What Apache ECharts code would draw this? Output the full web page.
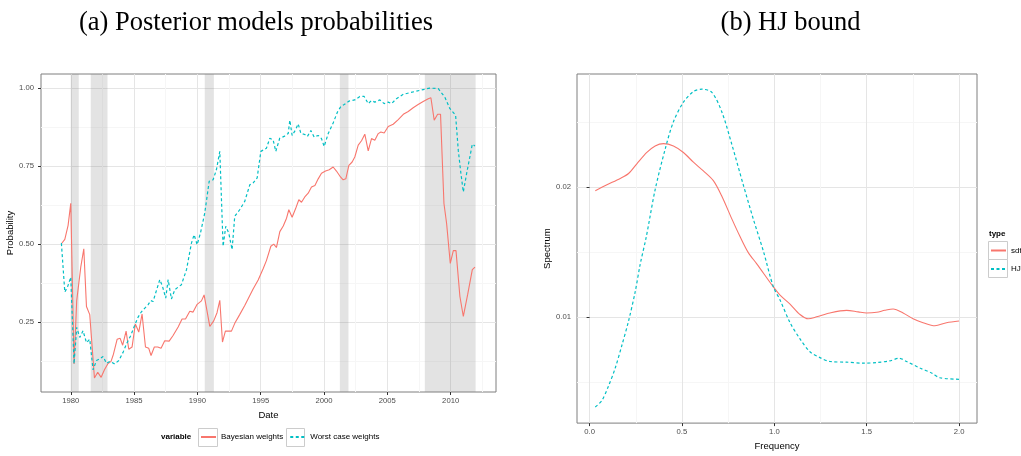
<!DOCTYPE html>
<html>
<head>
<meta charset="utf-8">
<script src="https://cdn.jsdelivr.net/npm/echarts@6/dist/echarts.min.js"></script>
<style>
html,body{margin:0;padding:0;background:#fff;}
#c{width:1021px;height:456px;}
</style>
</head>
<body>
<div id="c"></div>
<script>
// ---- Panel (a): posterior model probabilities ----
const bayesYears = [1979.26,1979.53,1979.79,1980.0,1980.26,1980.47,1980.79,1981.03,1981.24,1981.5,1981.87,1982.13,1982.4,1982.66,1982.92,1983.18,1983.37,1983.66,1983.9,1984.1,1984.37,1984.58,1984.84,1985.1,1985.37,1985.63,1985.9,1986.16,1986.34,1986.6,1986.87,1987.13,1987.42,1987.77,1988.08,1988.48,1988.79,1989.06,1989.4,1989.66,1989.98,1990.32,1990.53,1990.98,1991.29,1991.55,1991.77,1991.98,1992.21,1992.69,1992.95,1993.34,1993.74,1994.0,1994.4,1994.8,1995.19,1995.45,1995.8,1996.03,1996.24,1996.51,1996.78,1997.04,1997.22,1997.48,1997.75,1998.01,1998.22,1998.48,1998.75,1999.01,1999.28,1999.54,1999.8,2000.12,2000.41,2000.72,2000.98,2001.3,2001.51,2001.72,2001.96,2002.22,2002.43,2002.7,2002.96,2003.22,2003.49,2003.75,2004.01,2004.28,2004.49,2004.75,2005.07,2005.46,2005.86,2006.26,2006.65,2007.04,2007.43,2007.83,2008.23,2008.44,2008.7,2008.97,2009.2,2009.47,2009.68,2009.97,2010.21,2010.42,2010.73,2011.0,2011.34,2011.71,2011.92];
const bayesWeights = [0.501,0.515,0.56,0.631,0.116,0.319,0.426,0.485,0.30,0.274,0.071,0.089,0.073,0.097,0.116,0.124,0.147,0.195,0.198,0.176,0.221,0.163,0.17,0.244,0.218,0.276,0.17,0.166,0.143,0.17,0.17,0.166,0.19,0.189,0.207,0.234,0.26,0.26,0.285,0.282,0.307,0.318,0.337,0.236,0.254,0.28,0.32,0.186,0.221,0.221,0.246,0.274,0.303,0.324,0.356,0.385,0.421,0.447,0.493,0.50,0.489,0.54,0.558,0.583,0.61,0.586,0.613,0.642,0.634,0.651,0.663,0.683,0.688,0.709,0.727,0.734,0.738,0.747,0.734,0.715,0.706,0.709,0.752,0.763,0.779,0.817,0.831,0.852,0.799,0.838,0.833,0.854,0.859,0.856,0.877,0.884,0.899,0.916,0.925,0.937,0.947,0.957,0.966,0.969,0.897,0.916,0.916,0.63,0.566,0.438,0.479,0.479,0.332,0.268,0.338,0.418,0.426];

const worstYears = [1979.26,1979.53,1979.74,1980.0,1980.26,1980.47,1980.71,1980.97,1981.24,1981.5,1981.76,1982.03,1982.29,1982.55,1982.82,1983.08,1983.47,1983.8,1984.13,1984.4,1984.74,1985.05,1985.32,1985.58,1985.85,1986.11,1986.32,1986.5,1986.71,1987.03,1987.24,1987.5,1987.69,1987.95,1988.22,1988.74,1989.14,1989.53,1989.74,1989.98,1990.24,1990.58,1990.93,1991.24,1991.5,1991.77,1992.03,1992.24,1992.48,1992.74,1992.95,1993.34,1993.74,1994.14,1994.4,1994.72,1995.01,1995.45,1995.72,1995.98,1996.19,1996.5,1996.85,1997.17,1997.3,1997.48,1997.75,1997.96,1998.17,1998.48,1998.69,1998.96,1999.22,1999.54,1999.8,2000.01,2000.33,2000.72,2001.06,2001.33,2001.59,2001.96,2002.43,2002.83,2003.17,2003.49,2003.75,2004.01,2004.41,2004.75,2005.07,2005.33,2005.72,2006.26,2006.78,2007.3,2007.83,2008.36,2009.02,2009.54,2009.94,2010.39,2010.6,2010.81,2011.0,2011.26,2011.71,2011.92];
const worstWeights = [0.503,0.346,0.362,0.394,0.116,0.233,0.201,0.222,0.184,0.195,0.097,0.127,0.132,0.14,0.118,0.124,0.116,0.127,0.153,0.18,0.207,0.24,0.266,0.283,0.295,0.306,0.319,0.316,0.344,0.386,0.365,0.327,0.386,0.324,0.354,0.37,0.418,0.503,0.53,0.498,0.535,0.599,0.701,0.706,0.738,0.797,0.493,0.557,0.535,0.482,0.589,0.61,0.637,0.69,0.696,0.712,0.797,0.807,0.839,0.834,0.797,0.839,0.845,0.854,0.897,0.848,0.866,0.885,0.855,0.851,0.845,0.864,0.843,0.848,0.838,0.813,0.854,0.888,0.923,0.941,0.947,0.958,0.962,0.973,0.973,0.95,0.96,0.955,0.962,0.95,0.955,0.95,0.966,0.98,0.985,0.99,0.995,1.0,0.998,0.971,0.934,0.913,0.801,0.726,0.667,0.726,0.82,0.814];

const recessionStart = [1980.0, 1981.58, 1990.58, 2001.25, 2007.96];
const recessionEnd   = [1980.63, 1982.9, 1991.3, 2001.93, 2011.97];

const yearTicks = [1980, 1985, 1990, 1995, 2000, 2005, 2010];
const yearMinor = [1982.5, 1987.5, 1992.5, 1997.5, 2002.5, 2007.5, 2012.5];
const probTicks = [0.25, 0.5, 0.75, 1.0];
const probMinor = [0.125, 0.375, 0.625, 0.875];

// ---- Panel (b): HJ bound ----
const sdfFreq = [0.031,0.094,0.166,0.211,0.256,0.31,0.355,0.4,0.454,0.508,0.562,0.616,0.67,0.716,0.77,0.815,0.86,0.905,0.995,1.031,1.085,1.139,1.184,1.229,1.301,1.391,1.454,1.499,1.554,1.598,1.643,1.697,1.751,1.805,1.869,1.932,2.0];
const sdfSpectrum = [0.01973,0.02018,0.02067,0.02105,0.0218,0.02267,0.02317,0.02335,0.02317,0.02267,0.02192,0.02125,0.0205,0.0193,0.01756,0.01618,0.01494,0.0141,0.01232,0.01169,0.011,0.0102,0.00987,0.01002,0.01032,0.01052,0.0104,0.01032,0.01037,0.01052,0.01062,0.01032,0.00987,0.00957,0.00933,0.00957,0.0097];
const hjFreq = [0.031,0.067,0.103,0.139,0.175,0.211,0.247,0.274,0.307,0.355,0.409,0.454,0.508,0.562,0.608,0.662,0.716,0.77,0.832,0.886,0.941,0.995,1.031,1.085,1.139,1.193,1.247,1.301,1.391,1.481,1.554,1.625,1.676,1.716,1.788,1.851,1.896,2.0];
const hjSpectrum = [0.00308,0.00359,0.00471,0.00608,0.00783,0.0097,0.01195,0.01406,0.01618,0.01981,0.02292,0.02504,0.02654,0.02736,0.02754,0.02729,0.02579,0.02329,0.02018,0.01756,0.01506,0.01232,0.01132,0.00957,0.00832,0.00733,0.00688,0.00658,0.00653,0.00645,0.0065,0.00663,0.00683,0.00658,0.00608,0.0057,0.00533,0.00521];

const freqTicks = [0, 0.5, 1.0, 1.5, 2.0];
const freqMinor = [0.25, 0.75, 1.25, 1.75];
const specTicks = [0.01, 0.02];
const specMinor = [0.005, 0.015, 0.025];

const zip = (xs, ys) => xs.map((x, i) => [x, ys[i]]);

const RED = '#F8766D', CYAN = '#00BFC4';
const MAJOR = '#e5e5e5', MINOR = '#f6f6f6';
const LBL = { fontFamily: 'Liberation Sans', fontSize: 7.7, color: '#4d4d4d' };
const NAME = { fontFamily: 'Liberation Sans', fontSize: 9.5, color: '#000' };

function majorAxis(gridIndex, min, max, ticks, fmt, margin, name, gap) {
  return {
    gridIndex, type: 'value', min, max,
    name, nameLocation: 'middle', nameGap: gap, nameTextStyle: NAME,
    axisLine: { show: false },
    axisTick: { show: true, length: 3, customValues: ticks, lineStyle: { color: '#333', width: 1 } },
    axisLabel: Object.assign({ customValues: ticks, margin, formatter: fmt }, LBL),
    splitLine: { show: true, lineStyle: { color: MAJOR, width: 1 } },
    minorSplitLine: { show: false }
  };
}
function minorAxis(gridIndex, min, max, ticks) {
  return {
    gridIndex, type: 'value', min, max,
    axisLine: { show: false },
    axisTick: { show: false, customValues: ticks },
    axisLabel: { show: false, customValues: ticks },
    splitLine: { show: true, lineStyle: { color: MINOR, width: 1 } }
  };
}

const chart = echarts.init(document.getElementById('c'), null, { renderer: 'canvas' });
chart.setOption({
  animation: false,
  backgroundColor: '#fff',
  textStyle: { fontFamily: 'Liberation Sans' },
  title: [
    { text: '(a) Posterior models probabilities', left: 256, top: 10, textAlign: 'center', padding: 0,
      textStyle: { fontFamily: 'Liberation Serif', fontSize: 26.5, fontWeight: 'normal', color: '#000' } },
    { text: '(b) HJ bound', left: 790.5, top: 10, textAlign: 'center', padding: 0,
      textStyle: { fontFamily: 'Liberation Serif', fontSize: 26.5, fontWeight: 'normal', color: '#000' } }
  ],
  grid: [
    { left: 41, top: 74, width: 455, height: 318, show: true, borderColor: '#7f7f7f', borderWidth: 1, backgroundColor: 'transparent' },
    { left: 577, top: 74, width: 400, height: 359, show: true, borderColor: '#7f7f7f', borderWidth: 1, backgroundColor: 'transparent' }
  ],
  xAxis: [
    majorAxis(0, 1977.65, 2013.58, yearTicks, v => String(Math.round(v)), 5, 'Date', 13.5),
    minorAxis(0, 1977.65, 2013.58, yearMinor),
    majorAxis(1, -0.068, 2.097, freqTicks, v => v.toFixed(1), 5, 'Frequency', 13.5),
    minorAxis(1, -0.068, 2.097, freqMinor)
  ],
  yAxis: [
    majorAxis(0, 0.026, 1.045, probTicks, v => v.toFixed(2), 7, 'Probability', 22.5),
    minorAxis(0, 0.026, 1.045, probMinor),
    majorAxis(1, 0.00184, 0.02871, specTicks, v => v.toFixed(2), 6, 'Spectrum', 21),
    minorAxis(1, 0.00184, 0.02871, specMinor)
  ],
  legend: [
    { data: ['Bayesian weights', 'Worst case weights'], orient: 'horizontal', left: 200, top: 433, padding: 0,
      itemWidth: 15, itemHeight: 10, itemGap: 6, selectedMode: false,
      itemStyle: { opacity: 0 },
      textStyle: { fontFamily: 'Liberation Sans', fontSize: 8, color: '#000' } },
    { data: ['sdf', 'HJ'], orient: 'vertical', left: 990, top: 246.5, padding: 0,
      itemWidth: 15, itemHeight: 10, itemGap: 10.5, selectedMode: false,
      itemStyle: { opacity: 0 },
      textStyle: { fontFamily: 'Liberation Sans', fontSize: 8, color: '#000' } }
  ],
  graphic: [
    { type: 'rect', shape: { x: 198.5, y: 428.5, width: 19, height: 18 }, style: { fill: 'none', stroke: '#cccccc', lineWidth: 1 }, z: -1 },
    { type: 'rect', shape: { x: 286.5, y: 428.5, width: 18, height: 18 }, style: { fill: 'none', stroke: '#cccccc', lineWidth: 1 }, z: -1 },
    { type: 'text', x: 161, y: 437, style: { text: 'variable', font: 'bold 8px "Liberation Sans"', fill: '#000', textVerticalAlign: 'middle' } },
    { type: 'rect', shape: { x: 988.5, y: 241.5, width: 19, height: 18 }, style: { fill: 'none', stroke: '#cccccc', lineWidth: 1 }, z: -1 },
    { type: 'rect', shape: { x: 988.5, y: 259.5, width: 19, height: 18 }, style: { fill: 'none', stroke: '#cccccc', lineWidth: 1 }, z: -1 },
    { type: 'text', x: 989, y: 234, style: { text: 'type', font: 'bold 8px "Liberation Sans"', fill: '#000', textVerticalAlign: 'middle' } }
  ],
  series: [
    { name: 'Bayesian weights', type: 'line', xAxisIndex: 0, yAxisIndex: 0, data: zip(bayesYears, bayesWeights),
      symbol: 'none', lineStyle: { color: RED, width: 1.1 }, itemStyle: { color: RED }, z: 3 },
    { name: 'Worst case weights', type: 'line', xAxisIndex: 0, yAxisIndex: 0, data: zip(worstYears, worstWeights),
      symbol: 'none', lineStyle: { color: CYAN, width: 1.2, type: [3, 2.5] }, itemStyle: { color: CYAN }, z: 3 },
    { name: 'recessions', type: 'line', xAxisIndex: 0, yAxisIndex: 0, data: [], z: 6, silent: true,
      markArea: { silent: true, itemStyle: { color: 'rgba(128,128,128,0.22)' },
        data: recessionStart.map((s, i) => [{ xAxis: s }, { xAxis: recessionEnd[i] }]) } },
    { name: 'sdf', type: 'line', xAxisIndex: 2, yAxisIndex: 2, data: zip(sdfFreq, sdfSpectrum), smooth: 0.3,
      symbol: 'none', lineStyle: { color: RED, width: 1.1 }, itemStyle: { color: RED }, z: 3 },
    { name: 'HJ', type: 'line', xAxisIndex: 2, yAxisIndex: 2, data: zip(hjFreq, hjSpectrum), smooth: 0.3,
      symbol: 'none', lineStyle: { color: CYAN, width: 1.2, type: [3, 2.5] }, itemStyle: { color: CYAN }, z: 3 }
  ]
});
</script>
</body>
</html>
